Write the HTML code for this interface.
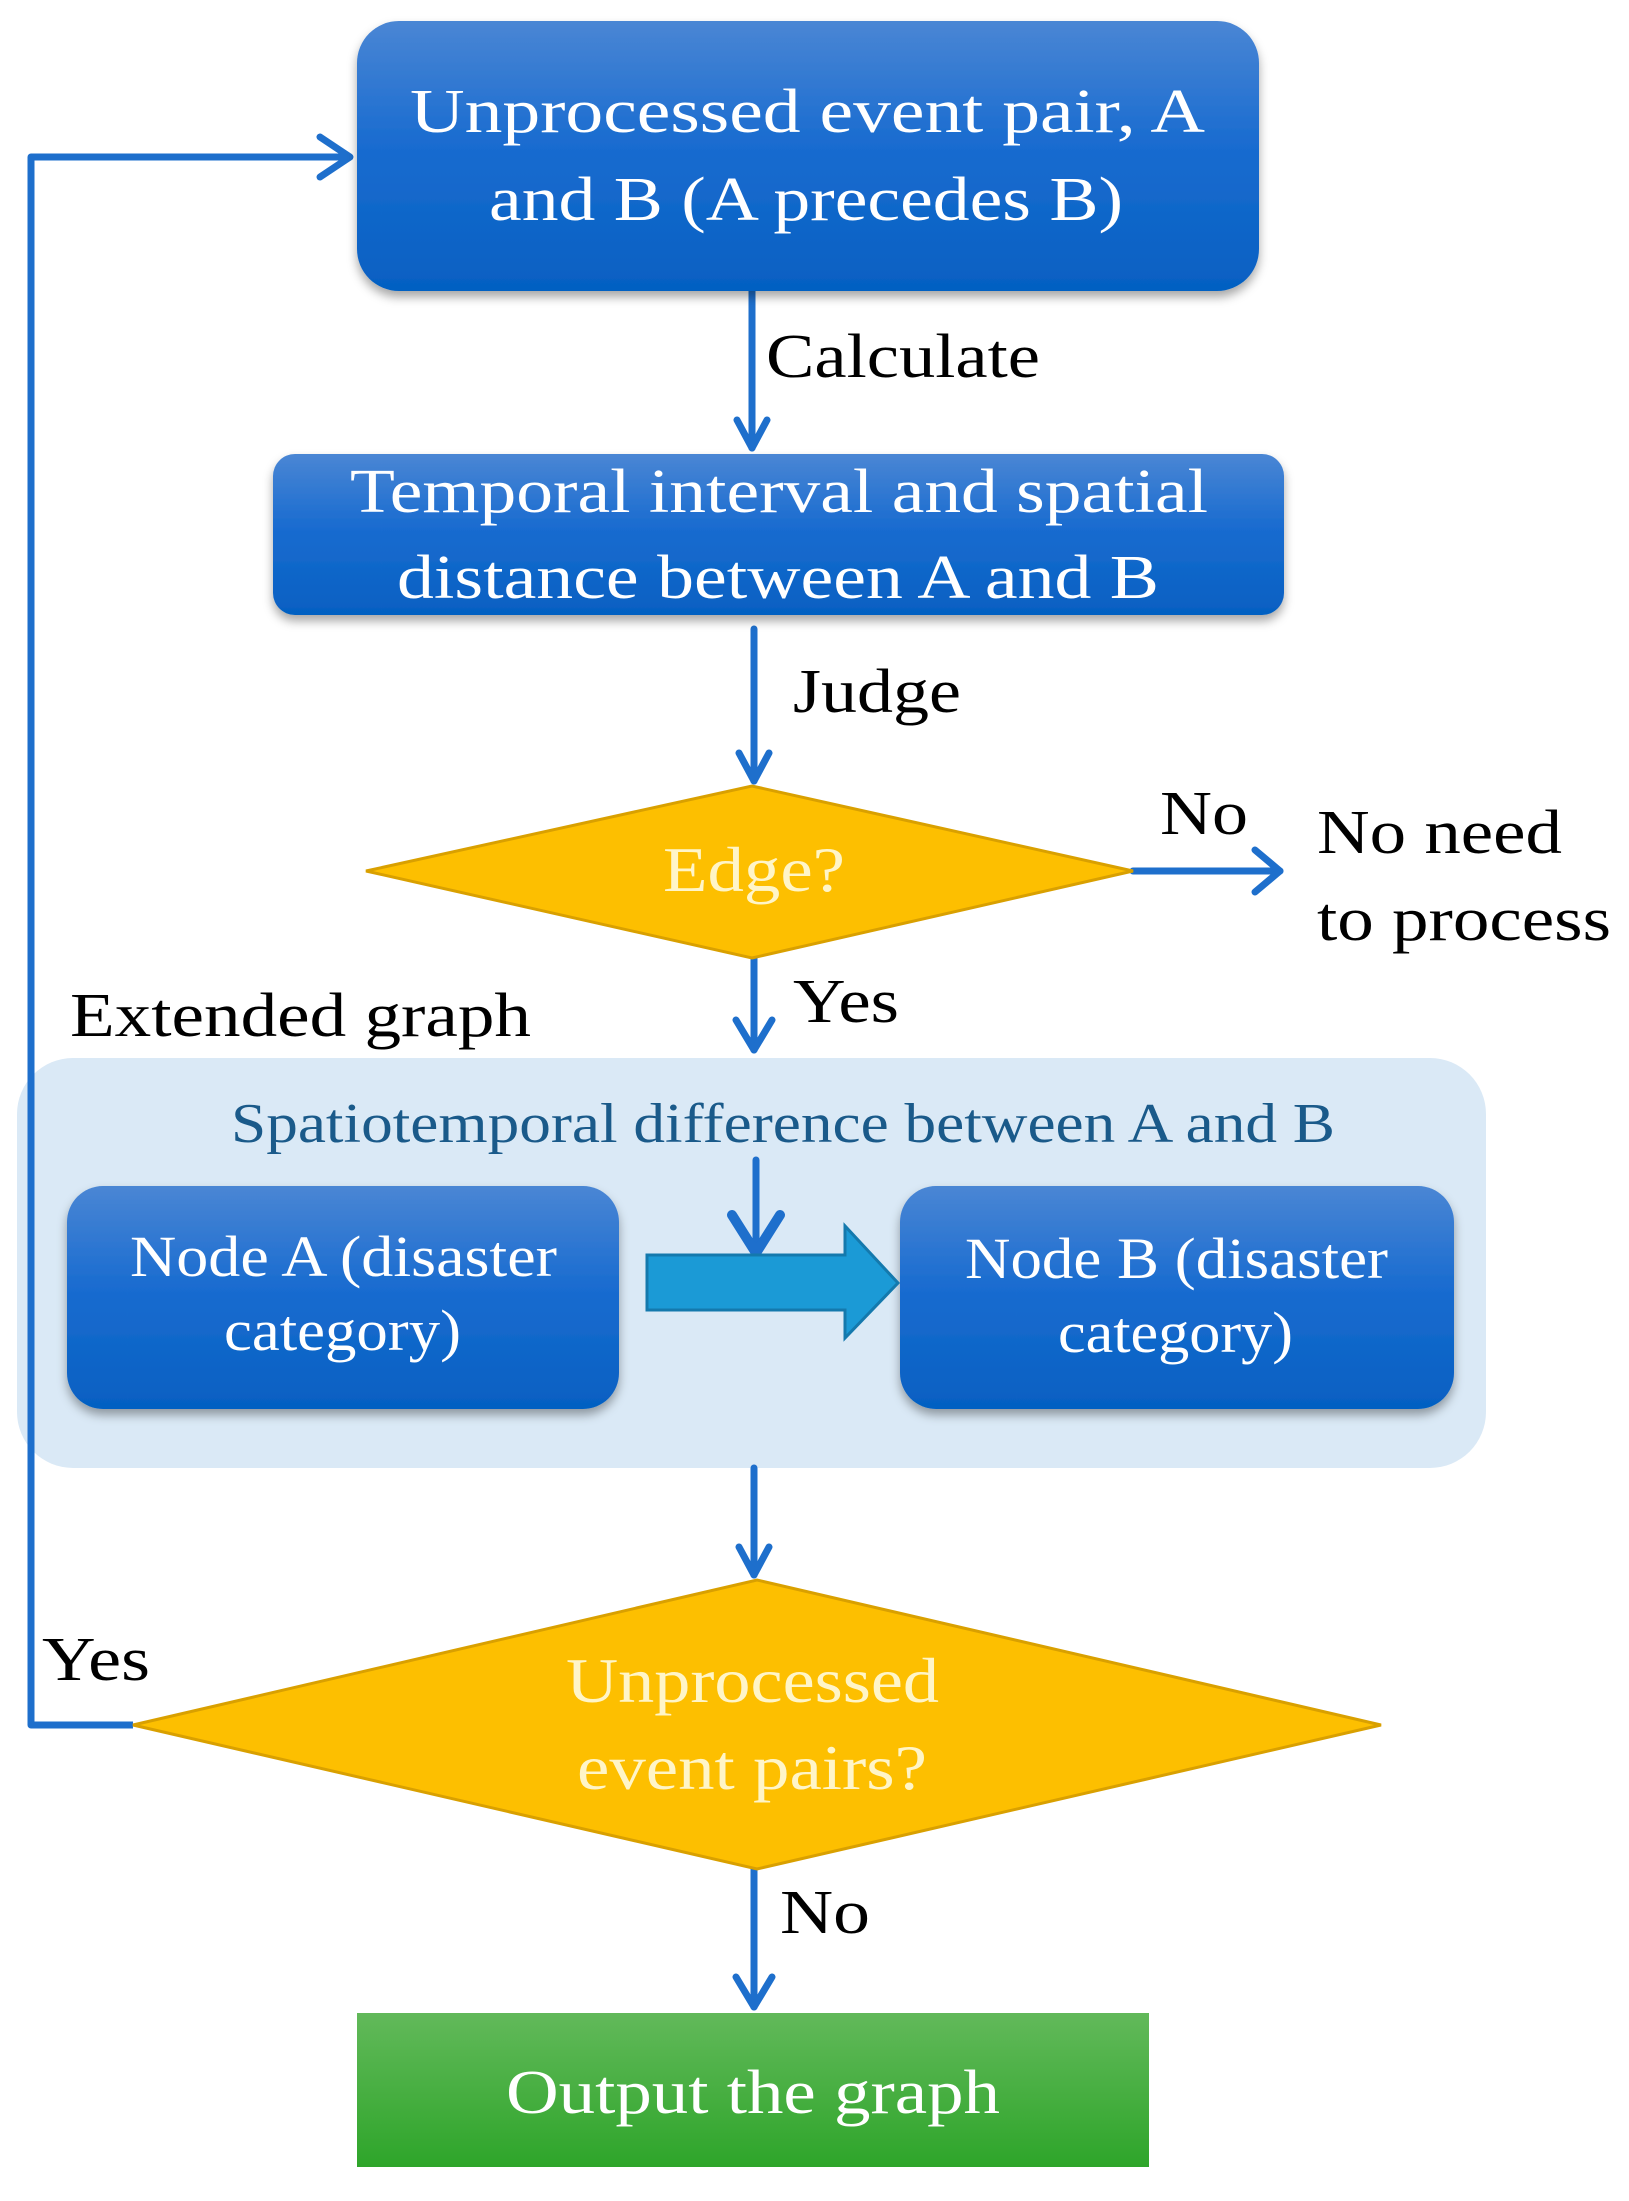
<!DOCTYPE html>
<html><head><meta charset="utf-8"><style>html,body{margin:0;padding:0;background:#fff}svg{display:block}text{font-family:"Liberation Serif",serif}</style></head>
<body>
<svg width="1629" height="2201" viewBox="0 0 1629 2201" xmlns="http://www.w3.org/2000/svg" font-family="'Liberation Serif', serif">
<defs>
<linearGradient id="bl" x1="0" y1="0" x2="0" y2="1">
<stop offset="0" stop-color="#4a86d4"/><stop offset="0.45" stop-color="#1a6cd0"/><stop offset="1" stop-color="#0560c2"/></linearGradient>
<linearGradient id="gr" x1="0" y1="0" x2="0" y2="1">
<stop offset="0" stop-color="#62b95a"/><stop offset="1" stop-color="#2ea52a"/></linearGradient>
<filter id="sh" x="-5%" y="-10%" width="110%" height="130%"><feDropShadow dx="0" dy="6" stdDeviation="5" flood-color="#000" flood-opacity="0.35"/></filter>
</defs>
<rect x="17" y="1058" width="1469" height="410" rx="56" fill="#dae9f6"/>
<g stroke="#1e6fcc" stroke-width="7" fill="none" stroke-linecap="round" stroke-linejoin="round">
<line x1="752" y1="291" x2="752" y2="448"/><polyline points="737,420 752,448 767,420"/>
<line x1="754" y1="629" x2="754" y2="781"/><polyline points="739,753 754,781 769,753"/>
<line x1="1133" y1="871" x2="1280" y2="871"/><polyline points="1255,850 1280,871 1255,892"/>
<line x1="754" y1="958" x2="754" y2="1050"/><polyline points="736,1020 754,1050 772,1020"/>
<line x1="756" y1="1160" x2="756" y2="1253"/><polyline points="732,1215 756,1253 780,1215" stroke-width="10"/>
<line x1="754" y1="1468" x2="754" y2="1575"/><polyline points="739,1547 754,1575 769,1547"/>
<line x1="754" y1="1869" x2="754" y2="2007"/><polyline points="736,1977 754,2007 772,1977"/>
<polyline points="133,1725 31,1725 31,157 350,157" stroke-linecap="butt"/><polyline points="320,137 350,157 320,177"/>
</g>
<rect x="357" y="21" width="902" height="270" rx="42" fill="url(#bl)" filter="url(#sh)"/>
<rect x="273" y="454" width="1011" height="161" rx="22" fill="url(#bl)" filter="url(#sh)"/>
<rect x="67" y="1186" width="552" height="223" rx="36" fill="url(#bl)" filter="url(#sh)"/>
<rect x="900" y="1186" width="554" height="223" rx="36" fill="url(#bl)" filter="url(#sh)"/>
<rect x="357" y="2013" width="792" height="154" fill="url(#gr)"/>
<polygon points="366,871 752,786 1133,871 752,958" fill="#fdbf00" stroke="#d9a000" stroke-width="3"/>
<polygon points="133,1725 757,1580 1381,1725 757,1869" fill="#fdbf00" stroke="#d9a000" stroke-width="3"/>
<polygon points="647,1255 845,1255 845,1226 898,1283 845,1338 845,1310 647,1310" fill="#1b9ad6" stroke="#1479ad" stroke-width="3"/>
<g fill="#fff" font-size="62">
<text x="410" y="132" textLength="795" lengthAdjust="spacingAndGlyphs">Unprocessed  event pair, A</text>
<text x="489" y="220" textLength="634" lengthAdjust="spacingAndGlyphs">and B (A precedes B)</text>
<text x="350" y="512" textLength="858" lengthAdjust="spacingAndGlyphs">Temporal interval and spatial</text>
<text x="397" y="598" textLength="762" lengthAdjust="spacingAndGlyphs">distance between A and B</text>
<text x="506" y="2113" textLength="494" lengthAdjust="spacingAndGlyphs">Output the graph</text>
</g>
<g fill="#fff" font-size="58">
<text x="130" y="1276" textLength="427" lengthAdjust="spacingAndGlyphs">Node A (disaster</text>
<text x="224" y="1350" textLength="237" lengthAdjust="spacingAndGlyphs">category)</text>
<text x="965" y="1278" textLength="423" lengthAdjust="spacingAndGlyphs">Node B (disaster</text>
<text x="1058" y="1352" textLength="235" lengthAdjust="spacingAndGlyphs">category)</text>
</g>
<g fill="#fff5c8" font-size="64">
<text x="663" y="891" textLength="182" lengthAdjust="spacingAndGlyphs">Edge?</text>
<text x="566" y="1702" textLength="373" lengthAdjust="spacingAndGlyphs">Unprocessed</text>
<text x="577" y="1789" textLength="350" lengthAdjust="spacingAndGlyphs">event pairs?</text>
</g>
<text x="231" y="1142" font-size="56" fill="#1a5a8a" textLength="1104" lengthAdjust="spacingAndGlyphs">Spatiotemporal difference between A and B</text>
<g fill="#000" font-size="62">
<text x="766" y="377" textLength="274" lengthAdjust="spacingAndGlyphs">Calculate</text>
<text x="793" y="712" textLength="168" lengthAdjust="spacingAndGlyphs">Judge</text>
<text x="1160" y="834" textLength="88" lengthAdjust="spacingAndGlyphs">No</text>
<text x="1317" y="853" textLength="245" lengthAdjust="spacingAndGlyphs">No need</text>
<text x="1317" y="940" textLength="294" lengthAdjust="spacingAndGlyphs">to process</text>
<text x="793" y="1022" textLength="106" lengthAdjust="spacingAndGlyphs">Yes</text>
<text x="70" y="1036" textLength="461" lengthAdjust="spacingAndGlyphs">Extended graph</text>
<text x="42" y="1680" textLength="108" lengthAdjust="spacingAndGlyphs">Yes</text>
<text x="780" y="1933" textLength="90" lengthAdjust="spacingAndGlyphs">No</text>
</g>
</svg>
</body></html>
